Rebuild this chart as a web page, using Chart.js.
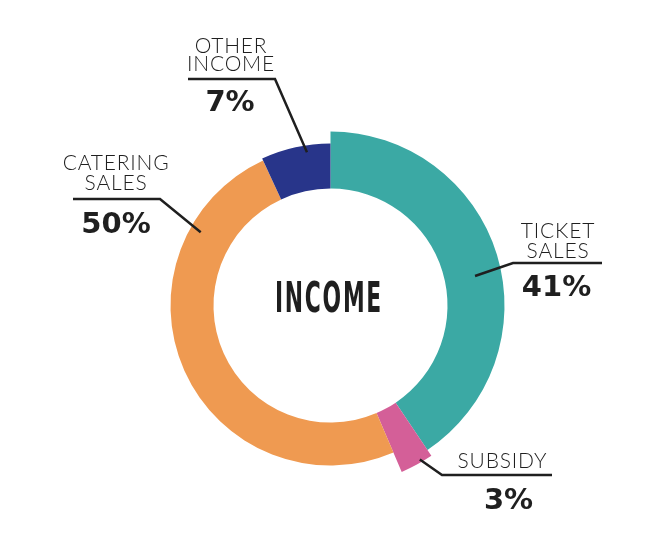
<!DOCTYPE html>
<html>
<head>
<meta charset="utf-8">
<script src="https://cdn.jsdelivr.net/npm/chart.js@4.4.1/dist/chart.umd.min.js"></script>
<style>
  html, body { margin: 0; padding: 0; background: #fff; }
  #wrap { width: 663px; height: 539px; }
</style>
</head>
<body>
<div id="wrap"><canvas id="incomeChart" width="663" height="539"></canvas></div>
<script>
// data
const categories = [['TICKET', 'SALES'], ['SUBSIDY'], ['CATERING', 'SALES'], ['OTHER', 'INCOME']];
const shares = [41, 3, 50, 7];
const pctLabels = ['41%', '3%', '50%', '7%'];
const centreTitle = 'INCOME';

// style
const sliceColours = ['#3ba9a4', '#d45f98', '#ef9a51', '#28358a'];
const outerRadii = [174, 181, 160, 162]; // each slice sticks out a different amount
const inkColour = '#1f1f1f';

// where the leader lines go, relative to the centre of the ring
const callouts = [
    { frac: 0.537, r: 147.5, elbow: [182.5, -42.5], endX: 271.5, textX: 227.5, lineY: [-75.5, -55.5], pctX: 226, pctY: -20 },
    { frac: 0.35, r: 178, elbow: [111.5, 169.5], endX: 221.5, textX: 172, lineY: [154.5], pctX: 178, pctY: 192.5 },
    { frac: 0.80, r: 149, elbow: [-170.5, -106.5], endX: -257.5, textX: -214.5, lineY: [-143, -123], pctX: -214.5, pctY: -83 },
    { frac: 0.65, r: 155, elbow: [-55.5, -226.5], endX: -142.5, textX: -99.5, lineY: [-260, -242], pctX: -100.5, pctY: -205.5 }
];

// give every arc its own outer radius
const ringRadii = {
    id: 'ringRadii',
    afterDatasetUpdate(chart, args) {
        const meta = chart.getDatasetMeta(args.index);
        meta.data.forEach((arc, i) => { arc.outerRadius = outerRadii[i]; });
    }
};

// leader lines, labels and the title in the hole
const callout = {
    id: 'callout',
    afterDraw(chart) {
        const ctx = chart.ctx;
        const arcs = chart.getDatasetMeta(0).data;
        const cx = arcs[0].x, cy = arcs[0].y;
        ctx.save();
        ctx.strokeStyle = inkColour;
        ctx.fillStyle = inkColour;
        ctx.lineWidth = 2.5;
        ctx.lineJoin = 'miter';
        arcs.forEach((arc, i) => {
            const c = callouts[i];
            const a = arc.startAngle + c.frac * (arc.endAngle - arc.startAngle);
            const sx = cx + Math.cos(a) * c.r, sy = cy + Math.sin(a) * c.r;
            ctx.beginPath();
            ctx.moveTo(sx, sy);
            ctx.lineTo(cx + c.elbow[0], cy + c.elbow[1]);
            ctx.lineTo(cx + c.endX, cy + c.elbow[1]);
            ctx.stroke();

            ctx.textAlign = 'center';
            ctx.textBaseline = 'alphabetic';
            ctx.font = '300 21px Lato, "Open Sans", sans-serif';
            ctx.letterSpacing = '0.8px';
            categories[i].forEach((line, k) => {
                ctx.fillText(line, cx + c.textX, cy + c.lineY[k] + 21 * 0.36);
            });
            ctx.font = 'bold 29px "DejaVu Sans", sans-serif';
            ctx.letterSpacing = '0px';
            ctx.fillText(pctLabels[i], cx + c.pctX, cy + c.pctY + 29 * 0.365);
        });

        ctx.font = 'bold 42px "Liberation Sans Narrow", "DejaVu Sans Condensed", sans-serif';
        ctx.letterSpacing = '3px';
        ctx.fillText(centreTitle, cx - 1.5, cy - 8.5 + 15, 108);
        ctx.restore();
    }
};

const ctx = document.getElementById('incomeChart').getContext('2d');
const incomeChart = new Chart(ctx, {
    type: 'doughnut',
    data: {
        labels: categories.map(c => c.join(' ')),
        datasets: [{
            data: shares,
            backgroundColor: sliceColours,
            borderWidth: 0,
            hoverOffset: 0
        }]
    },
    options: {
        responsive: false,
        animation: false,
        events: [],
        cutout: 117,
        layout: {
            padding: { left: 149.5, right: 151.5, top: 124.5, bottom: 52.5 }
        },
        plugins: {
            legend: { display: false },
            tooltip: { enabled: false }
        }
    },
    plugins: [ringRadii, callout]
});
</script>
</body>
</html>
